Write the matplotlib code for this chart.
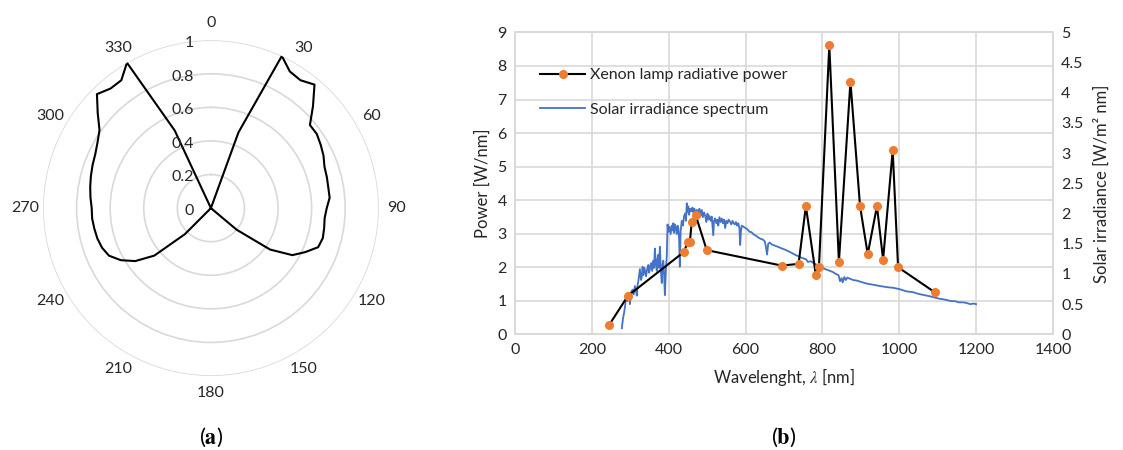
import numpy as np
import matplotlib
matplotlib.use("Agg")
import matplotlib.pyplot as plt

plt.rcParams['font.family'] = ['Lato', 'DejaVu Sans']
plt.rcParams['mathtext.fontset'] = 'stix'

# (a) angular distribution, every 5 degrees
angulos = np.arange(0, 360, 5)
intensidad = [0, 0, 0, 0, 0.48, 1.0, 0.94, 0.93, 0.96, 0.86, 0.77, 0.77,
              0.755, 0.74, 0.72, 0.715, 0.71, 0.71, 0.69, 0.68, 0.685, 0.69, 0.68, 0.62,
              0.56, 0.43, 0.20, 0, 0, 0, 0, 0, 0, 0, 0, 0,
              0, 0, 0, 0, 0, 0, 0, 0, 0, 0.22, 0.44, 0.55,
              0.62, 0.67, 0.69, 0.70, 0.705, 0.71, 0.71, 0.72, 0.73, 0.74, 0.75, 0.76,
              0.78, 0.81, 0.88, 0.96, 0.93, 0.93, 1.0, 0.51, 0, 0, 0, 0]
r_ticks = [0, 0.2, 0.4, 0.6, 0.8, 1]
theta_ticks = np.arange(0, 360, 30)

# (b) xenon lamp
xe_wl = [245, 294, 440, 449, 455, 460, 470, 499, 694, 738, 757, 783, 791,
         818, 843, 873, 898, 918, 942, 958, 983, 997, 1093]
xe_pw = [0.28, 1.15, 2.46, 2.74, 2.74, 3.36, 3.56, 2.51, 2.05, 2.10, 3.82, 1.77, 2.00,
         8.61, 2.16, 7.53, 3.82, 2.39, 3.82, 2.23, 5.48, 2.00, 1.25]

# solar irradiance spectrum (wavelength nm, W/m2 nm)
solar = [
    (278, 0.10), (281, 0.26), (284, 0.36), (287, 0.49), (289, 0.62), (292, 0.55),
    (295, 0.68), (297, 0.60), (299, 0.50), (302, 0.70), (306, 0.74), (309, 0.66),
    (312, 0.80), (315, 0.72), (317, 0.64), (319, 0.82), (321, 0.88), (323, 0.98),
    (325, 1.08), (328, 0.90), (330, 0.95), (332, 1.12), (334, 0.98), (337, 1.10),
    (341, 0.96), (344, 1.08), (347, 1.15), (349, 1.02), (351, 1.08), (354, 1.18),
    (357, 1.05), (360, 1.22), (362, 1.10), (364, 1.42), (367, 1.15), (369, 1.05),
    (371, 1.25), (373, 1.32), (375, 1.10), (377, 1.45), (380, 1.02), (382, 0.85),
    (384, 1.15), (386, 1.22), (388, 1.00), (390, 0.65), (393, 1.10), (395, 1.30),
    (397, 1.82), (399, 1.70), (402, 1.78), (405, 1.66), (408, 1.80), (410, 1.72),
    (412, 1.84), (414, 1.68), (416, 1.82), (419, 1.74), (421, 1.66), (423, 1.80),
    (425, 1.76), (427, 1.60), (429, 1.12), (431, 1.70), (434, 1.88), (437, 1.80),
    (440, 1.96), (443, 2.00), (445, 1.88), (447, 2.17), (449, 2.02), (451, 2.12),
    (453, 1.98), (456, 2.08), (459, 2.04), (462, 2.10), (464, 2.02), (467, 2.08),
    (470, 1.98), (473, 2.06), (477, 2.02), (480, 2.08), (483, 1.96), (486, 2.06),
    (489, 1.94), (492, 2.02), (495, 1.96), (498, 1.86), (501, 2.00), (503, 1.90),
    (506, 1.96), (509, 1.88), (512, 1.95), (514, 1.80), (516, 1.64), (518, 1.88),
    (521, 1.92), (524, 1.84), (527, 1.90), (529, 1.80), (532, 1.94), (535, 1.86),
    (538, 1.92), (541, 1.84), (544, 1.90), (547, 1.76), (550, 1.88), (553, 1.84),
    (556, 1.90), (560, 1.86), (563, 1.82), (566, 1.88), (569, 1.84), (572, 1.82),
    (575, 1.86), (578, 1.80), (581, 1.84), (584, 1.76), (586, 1.48), (588, 1.70),
    (590, 1.80), (595, 1.78), (600, 1.76), (605, 1.74), (610, 1.70), (616, 1.69),
    (620, 1.66), (625, 1.64), (630, 1.62), (634, 1.60), (640, 1.58), (645, 1.57),
    (650, 1.54), (653, 1.45), (656, 1.32), (659, 1.50), (663, 1.52), (668, 1.49),
    (672, 1.48), (680, 1.46), (688, 1.44), (695, 1.42), (700, 1.41), (710, 1.38),
    (720, 1.35), (725, 1.33), (735, 1.30), (745, 1.27), (750, 1.26), (758, 1.24),
    (762, 1.20), (770, 1.21), (777, 1.18), (785, 1.15), (795, 1.12), (803, 1.09),
    (812, 1.07), (820, 1.05), (828, 1.03), (835, 1.00), (842, 0.98), (846, 0.88),
    (850, 0.93), (853, 0.86), (857, 0.95), (861, 0.90), (865, 0.94), (872, 0.92),
    (880, 0.90), (890, 0.89), (900, 0.87), (910, 0.85), (916, 0.84), (925, 0.83),
    (935, 0.82), (942, 0.81), (950, 0.80), (960, 0.79), (970, 0.78), (985, 0.77),
    (1000, 0.75), (1010, 0.73), (1020, 0.71), (1035, 0.70), (1050, 0.67), (1065, 0.65),
    (1080, 0.63), (1093, 0.61), (1105, 0.59), (1115, 0.58), (1123, 0.57), (1135, 0.55),
    (1145, 0.55), (1155, 0.53), (1166, 0.53), (1175, 0.52), (1185, 0.50), (1193, 0.51),
    (1200, 0.50),
]
sol_wl = [p[0] for p in solar]
sol_irr = [p[1] for p in solar]

gris = '#d9d9d9'
texto = '#262626'
fs = 11.5

fig = plt.figure(figsize=(11.23, 4.5), dpi=100)

# ---- (a) polar
axp = fig.add_axes([0.0383, 0.164, 0.299, 0.747], projection='polar')
axp.set_theta_zero_location('N')
axp.set_theta_direction(-1)
th = np.deg2rad(np.append(angulos, 0))
axp.plot(th, intensidad + intensidad[:1], color='black', lw=1.5)
axp.set_ylim(0, 1)
axp.set_yticks(r_ticks[1:])
axp.set_yticklabels([])
axp.yaxis.grid(True, color=gris, lw=1.2)
axp.xaxis.grid(False)
axp.spines['polar'].set_visible(False)
axp.set_thetagrids(theta_ticks, [str(t) for t in theta_ticks], fontsize=fs, color=texto)
axp.tick_params(axis='x', pad=2)
for r in r_ticks:
    axp.annotate(str(r) if r not in (0, 1) else str(int(r)), xy=(0, r), xytext=(-12, -2),
                 textcoords='offset points', ha='right', va='center',
                 fontsize=fs, color=texto)

# ---- (b) spectra
ax = fig.add_axes([0.4586, 0.257, 0.479, 0.671])
ax2 = ax.twinx()
ax.set_xlim(0, 1400)
ax.set_ylim(0, 9)
ax2.set_ylim(0, 5)
ax.set_xticks(np.arange(0, 1401, 200))
ax.set_yticks(np.arange(0, 10, 1))
ax2.set_yticks(np.arange(0, 5.01, 0.5))
ax2.set_yticklabels(['0', '0.5', '1', '1.5', '2', '2.5', '3', '3.5', '4', '4.5', '5'])
ax.grid(True, color=gris, lw=1.2)
ax.set_axisbelow(True)

ax.plot(sol_wl, sol_irr, color='#4472C4', lw=1.3, transform=ax2.transData,
        zorder=2, label='Solar irradiance spectrum')
ax.plot(xe_wl, xe_pw, color='black', lw=1.5, marker='o', markersize=5.5,
        markerfacecolor='#ED7D31', markeredgecolor='#ED7D31', zorder=3,
        label='Xenon lamp radiative power')
ax.set_xlim(0, 1400)
ax.set_ylim(0, 9)

for a in (ax, ax2):
    for s in a.spines.values():
        s.set_color(gris)
        s.set_linewidth(1.2)
    a.tick_params(length=0, labelsize=fs, labelcolor=texto, pad=6)

ax.set_xlabel(r'Wavelenght, $\lambda$ [nm]', fontsize=fs + 0.5, color=texto, labelpad=7)
ax.set_ylabel('Power [W/nm]', fontsize=fs + 0.5, color=texto, labelpad=5)
ax2.set_ylabel('Solar irradiance [W/m² nm]', fontsize=fs + 0.5, color=texto, labelpad=7)

h, l = ax.get_legend_handles_labels()
ax.legend(h[::-1], l[::-1], loc='upper left', bbox_to_anchor=(0.02, 0.93), frameon=False,
          fontsize=fs, labelcolor=texto, handlelength=2.8, handletextpad=0.3, labelspacing=1.3)

# captions
fig.text(211 / 1123, 1 - 437 / 450, r'($\mathbf{a}$)', ha='center', va='center', fontsize=16)
fig.text(784 / 1123, 1 - 437 / 450, r'($\mathbf{b}$)', ha='center', va='center', fontsize=16)

fig.savefig('out.png', dpi=100)
